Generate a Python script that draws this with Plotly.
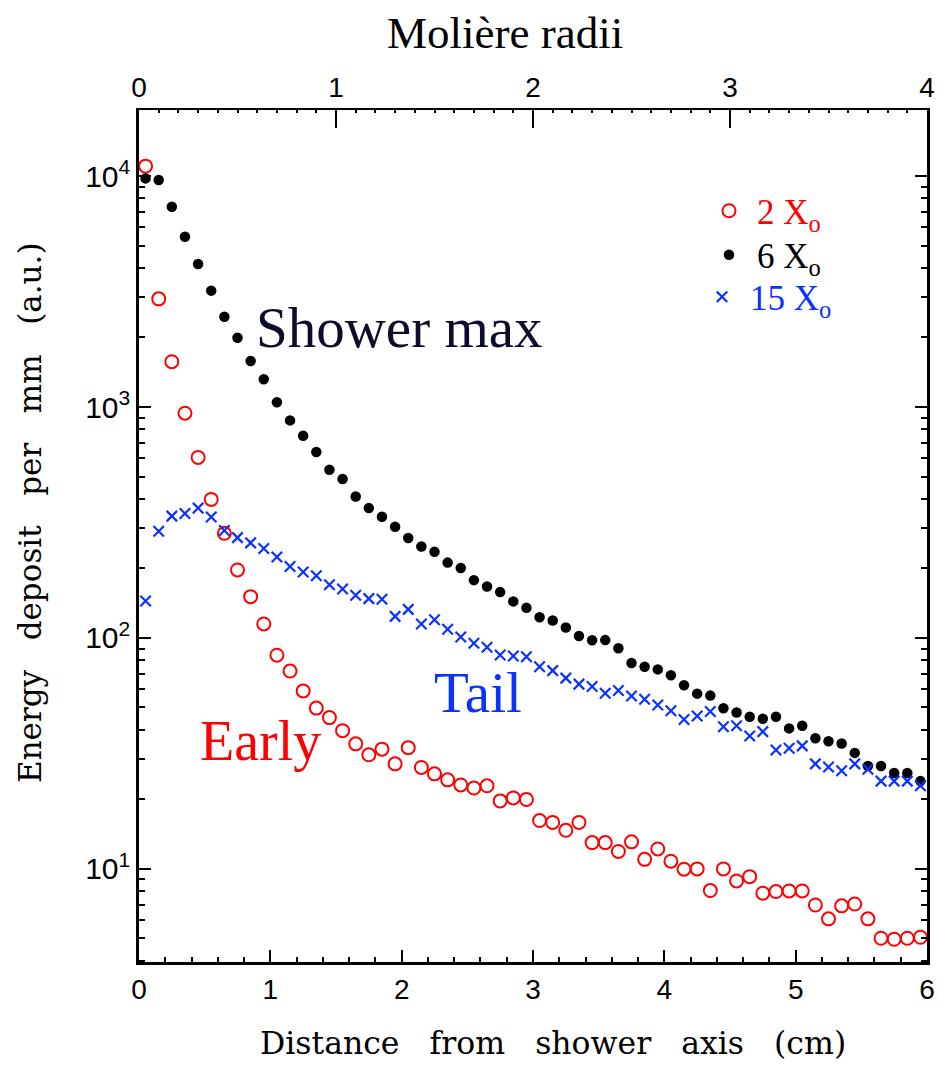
import plotly.graph_objects as go

# distance from shower axis (cm), bin centres
distance_cm = [0.05, 0.15, 0.25, 0.35, 0.45, 0.55, 0.65, 0.75, 0.85, 0.95,
               1.05, 1.15, 1.25, 1.35, 1.45, 1.55, 1.65, 1.75, 1.85, 1.95,
               2.05, 2.15, 2.25, 2.35, 2.45, 2.55, 2.65, 2.75, 2.85, 2.95,
               3.05, 3.15, 3.25, 3.35, 3.45, 3.55, 3.65, 3.75, 3.85, 3.95,
               4.05, 4.15, 4.25, 4.35, 4.45, 4.55, 4.65, 4.75, 4.85, 4.95,
               5.05, 5.15, 5.25, 5.35, 5.45, 5.55, 5.65, 5.75, 5.85, 5.95]

depth_2X0 = [11040, 2940, 1571, 940, 605, 398, 284, 197, 151, 115,
             84.2, 71.9, 59.0, 49.7, 45.2, 39.7, 34.8, 31.2, 33.0, 28.5,
             33.5, 27.5, 25.8, 24.3, 23.1, 22.4, 22.9, 19.7, 20.3, 20.0,
             16.2, 15.9, 14.7, 15.9, 13.0, 13.0, 11.9, 13.1, 11.0, 12.2,
             10.8, 9.97, 10.0, 8.06, 10.0, 8.87, 9.26, 7.85, 7.98, 8.03,
             8.03, 6.98, 6.08, 6.92, 7.05, 6.08, 5.01, 4.96, 5.01, 5.06]

depth_6X0 = [9770, 9620, 7360, 5460, 4160, 3190, 2460, 1994, 1581, 1318,
             1048, 875, 751, 639, 535, 488, 410, 365, 335, 303,
             271, 249, 236, 212, 201, 178, 167, 158, 144, 135,
             123, 119, 111, 102, 97.7, 97.9, 90.2, 77.9, 75.1, 73.1,
             69.0, 62.4, 57.4, 56.3, 49.6, 47.6, 45.6, 44.7, 45.6, 40.6,
             41.7, 36.8, 35.7, 34.9, 31.8, 27.9, 27.9, 26.0, 26.0, 24.0]

depth_15X0 = [144.5, 290, 337, 346, 365, 334, 292, 272, 258, 244,
              224, 204, 193, 186, 170, 163, 153, 148, 147, 124,
              133, 115, 120, 109, 101, 94.9, 91.2, 84.4, 83.6, 83.0,
              75.1, 72.2, 67.0, 63.1, 61.6, 57.6, 59.2, 56.1, 54.3, 51.3,
              48.4, 44.4, 45.9, 48.0, 41.3, 41.7, 37.6, 39.3, 32.7, 33.3,
              34.1, 28.5, 27.6, 26.6, 28.5, 27.0, 24.0, 24.0, 24.0, 22.9]

x_ticks_cm = [0, 1, 2, 3, 4, 5, 6]
x_ticks_moliere = [0, 1, 2, 3, 4]
y_tickvals = [10, 100, 1000, 10000]
y_ticktext = ["10<sup>1</sup>", "10<sup>2</sup>", "10<sup>3</sup>", "10<sup>4</sup>"]

RED = "#ff0000"
BLACK = "#000000"
BLUE = "#0a32ff"
SERIF = "Liberation Serif, Times New Roman, serif"
SERIF_WIDE = "DejaVu Serif, serif"
SANS = "Liberation Sans, Arial, sans-serif"

fig = go.Figure()
fig.add_trace(go.Scatter(
    x=distance_cm, y=depth_2X0, mode="markers", legend="legend",
    name='<span style="color:#ff0000">2 X<sub>o</sub></span>',
    marker=dict(symbol="circle-open", size=13, color=RED, line=dict(width=2, color=RED))))
fig.add_trace(go.Scatter(
    x=distance_cm, y=depth_6X0, mode="markers", legend="legend2",
    name='<span style="color:#000000">6 X<sub>o</sub></span>',
    marker=dict(symbol="circle", size=10.5, color=BLACK)))
fig.add_trace(go.Scatter(
    x=distance_cm, y=depth_15X0, mode="markers", legend="legend3",
    name='<span style="color:#0a32ff">15 X<sub>o</sub></span>',
    marker=dict(symbol="x-thin-open", size=10.5, color=BLUE, line=dict(width=2.2, color=BLUE))))

legend_common = dict(xanchor="left", yanchor="middle",
                     font=dict(family=SERIF, size=35), bgcolor="rgba(0,0,0,0)",
                     itemwidth=46)
legend_x = (701 - 139) / 788

fig.update_layout(
    width=938, height=1065,
    margin=dict(l=139, r=11, t=110, b=103, autoexpand=False),
    paper_bgcolor="white", plot_bgcolor="white",
    showlegend=True,
    legend=dict(x=legend_x, y=(962 - 211) / 852, **legend_common),
    legend2=dict(x=legend_x, y=(962 - 255) / 852, **legend_common),
    legend3=dict(x=legend_x - 7 / 788, y=(962 - 297) / 852, **legend_common),
    xaxis=dict(range=[0, 6], tickvals=x_ticks_cm, ticks="inside", ticklen=12,
               tickwidth=1.5, tickcolor="black", automargin=False,
               minor=dict(ticks="inside", ticklen=5, dtick=0.2, tickcolor="black", showgrid=False),
               showline=True, linewidth=3, linecolor="black", showgrid=False, zeroline=False,
               tickfont=dict(family=SANS, size=28, color="black")),
    xaxis2=dict(range=[0, 4], tickvals=x_ticks_moliere, overlaying="x", side="top",
                anchor="y", ticks="inside", ticklen=18, tickwidth=1.5, tickcolor="black",
                automargin=False,
                minor=dict(ticks="inside", ticklen=3, dtick=0.1, tickcolor="black", showgrid=False),
                showline=True, linewidth=2, linecolor="black", showgrid=False, zeroline=False,
                tickfont=dict(family=SANS, size=28, color="black")),
    yaxis=dict(type="log", range=[0.597, 4.286], tickvals=y_tickvals, ticktext=y_ticktext,
               ticks="inside", ticklen=12, tickwidth=1.5, tickcolor="black", mirror="ticks",
               automargin=False,
               minor=dict(ticks="inside", ticklen=6, dtick="D1", tickcolor="black", showgrid=False),
               showline=True, linewidth=2.5, linecolor="black", showgrid=False, zeroline=False,
               tickfont=dict(family=SANS, size=30, color="black")),
)

# an invisible trace so the top Molière axis is attached
fig.add_trace(go.Scatter(x=[x_ticks_moliere[0], x_ticks_moliere[-1]], y=[y_tickvals[0], y_tickvals[0]],
                         xaxis="x2", yaxis="y", mode="markers", marker=dict(opacity=0),
                         showlegend=False, hoverinfo="skip"))

sp = "\u00a0\u00a0\u00a0"
annotations = [
    dict(text="Shower max", x=0.872, y=3.345, xref="x", yref="y", xanchor="left", yanchor="middle",
         showarrow=False, font=dict(family=SERIF, size=57, color="#0c0c2c")),
    dict(text="Tail", x=2.23, y=1.766, xref="x", yref="y", xanchor="left", yanchor="middle",
         showarrow=False, font=dict(family=SERIF, size=57, color=BLUE)),
    dict(text="Early", x=0.45, y=1.553, xref="x", yref="y", xanchor="left", yanchor="middle",
         showarrow=False, font=dict(family=SERIF, size=56, color=RED)),
    dict(text="Molière radii", x=(505 - 139) / 788, y=(962 - 33) / 852, xref="paper", yref="paper",
         xanchor="center", yanchor="middle", showarrow=False,
         font=dict(family=SERIF, size=45, color="black")),
    dict(text="Distance" + sp + "from" + sp + "shower" + sp + "axis" + sp + "(cm)",
         x=(553 - 139) / 788, y=(962 - 1043) / 852, xref="paper", yref="paper",
         xanchor="center", yanchor="middle", showarrow=False,
         font=dict(family=SERIF_WIDE, size=31.5, color="black")),
    dict(text="Energy" + sp + "deposit" + sp + "per" + sp + "mm" + sp + "(a.u.)",
         x=(30 - 139) / 788, y=(962 - 513) / 852, xref="paper", yref="paper",
         xanchor="center", yanchor="middle", textangle=-90, showarrow=False,
         font=dict(family=SERIF_WIDE, size=31, color="black")),
]
fig.update_layout(annotations=annotations)

fig.write_html("out.html")
